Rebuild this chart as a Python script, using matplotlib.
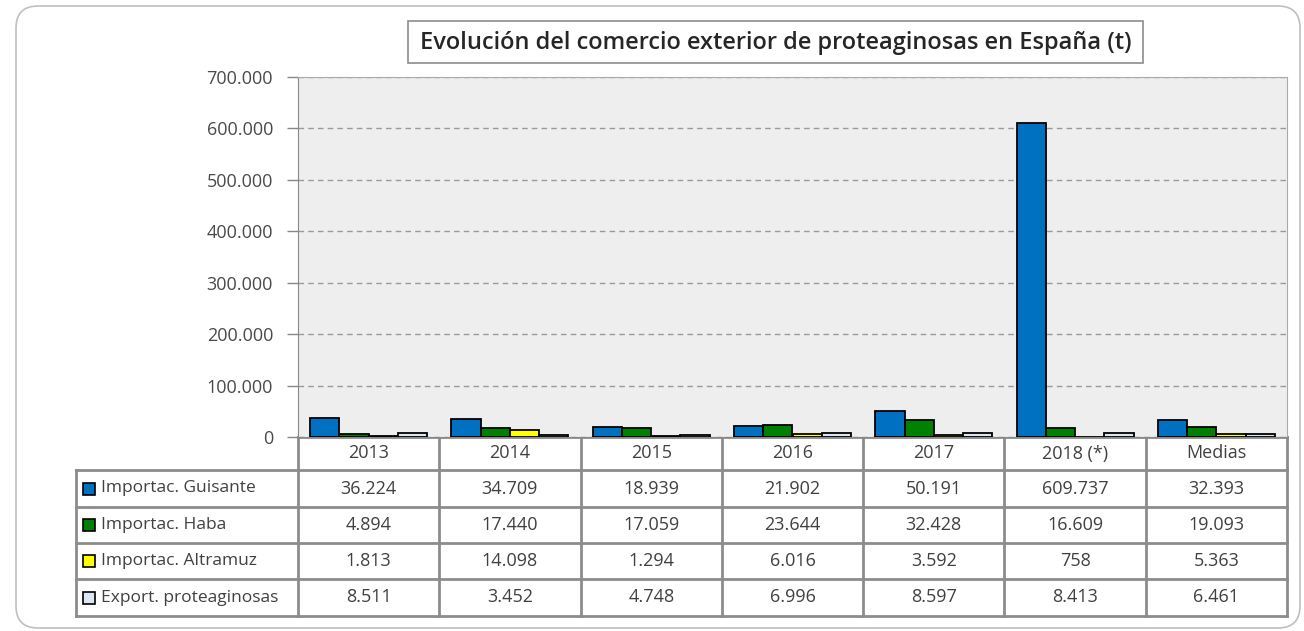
import numpy as np
import matplotlib.pyplot as plt
from matplotlib.patches import FancyBboxPatch, Rectangle

plt.rcParams['font.family'] = ['Open Sans', 'DejaVu Sans']

years = ["2013", "2014", "2015", "2016", "2017", "2018 (*)", "Medias"]
series = ["Importac. Guisante", "Importac. Haba", "Importac. Altramuz", "Export. proteaginosas"]
guisante = [36224, 34709, 18939, 21902, 50191, 609737, 32393]
haba = [4894, 17440, 17059, 23644, 32428, 16609, 19093]
altramuz = [1813, 14098, 1294, 6016, 3592, 758, 5363]
export = [8511, 3452, 4748, 6996, 8597, 8413, 6461]
colors = ["#0070C0", "#008000", "#FFFF00", "#DCE6F2"]
yticks = [0, 100000, 200000, 300000, 400000, 500000, 600000, 700000]


def fmt(v):
    return "{:,}".format(v).replace(",", ".")


W, H = 1304, 631
fig = plt.figure(figsize=(W / 100, H / 100), dpi=100)

# overlay in pixel coordinates for frame, title and table
ov = fig.add_axes([0, 0, 1, 1])
ov.set_xlim(0, W)
ov.set_ylim(H, 0)
ov.axis("off")
ov.add_patch(FancyBboxPatch((16, 6), W - 20, H - 9, boxstyle="round,pad=0,rounding_size=22",
                            fc="white", ec="#BFBFBF", lw=1.2))

# chart area
L, R, T, B = 298, 1287, 77, 437
ax = fig.add_axes([L / W, 1 - B / H, (R - L) / W, (B - T) / H])
ax.set_facecolor("#EEEEEE")
data = [guisante, haba, altramuz, export]
x = np.arange(len(years))
bw = 0.207
for k, (vals, c) in enumerate(zip(data, colors)):
    ax.bar(x + (k - 1.5) * bw, vals, bw, color=c, edgecolor="black", lw=1.3, zorder=3)
ax.set_xlim(-0.5, len(years) - 0.5)
ax.set_ylim(0, 700000)
ax.set_yticks(yticks)
ax.set_yticklabels([fmt(v) for v in yticks], fontsize=13, color="#4A4A4A")
ax.set_xticks([])
ax.yaxis.grid(True, ls=(0, (4, 3)), color="#9A9A9A", lw=1, zorder=1)
ax.tick_params(axis="y", length=8, width=1, color="#888888", pad=10)
for s in ["top", "right"]:
    ax.spines[s].set_color("#AAAAAA")
    ax.spines[s].set_linestyle((0, (2, 1)))
ax.spines["left"].set_color("#888888")
ax.spines["bottom"].set_color("#888888")

# title box
ov.add_patch(Rectangle((408, 21), 735, 42, fc="white", ec="#8C8C8C", lw=1.2, zorder=5))
ov.text(776, 43, "Evolución del comercio exterior de proteaginosas en España (t)",
        ha="center", va="center", fontsize=17, fontweight="semibold", color="#262626", zorder=6)

# data table
lab_l = 76
rows_y = [437, 470, 507, 543, 579, 616]
cw = (R - L) / len(years)
lc = "#8C8C8C"
ov.plot([L, R], [rows_y[0], rows_y[0]], color=lc, lw=2)
for yy in rows_y[1:]:
    ov.plot([lab_l, R], [yy, yy], color=lc, lw=2)
ov.plot([lab_l, lab_l], [rows_y[1], rows_y[-1]], color=lc, lw=2)
for j in range(len(years) + 1):
    ov.plot([L + j * cw, L + j * cw], [rows_y[0], rows_y[-1]], color=lc, lw=2)
for j, yr in enumerate(years):
    ov.text(L + (j + 0.5) * cw, (rows_y[0] + rows_y[1]) / 2, yr, ha="center", va="center",
            fontsize=13, color="#404040")
for i, (name, vals, c) in enumerate(zip(series, data, colors)):
    yc = (rows_y[i + 1] + rows_y[i + 2]) / 2
    ov.add_patch(Rectangle((83, yc - 6), 12, 12, fc=c, ec="black", lw=1.2))
    ov.text(101, yc, name, ha="left", va="center", fontsize=12.5, color="#404040")
    for j, v in enumerate(vals):
        ov.text(L + (j + 0.5) * cw, yc, fmt(v), ha="center", va="center", fontsize=13, color="#404040")

fig.savefig("out.png", dpi=100)
